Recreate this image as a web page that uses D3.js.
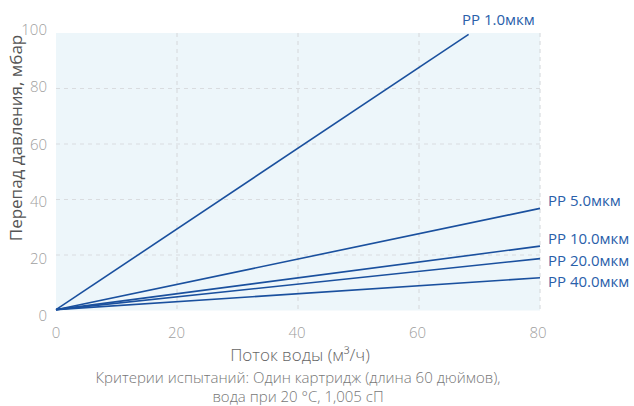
<!DOCTYPE html>
<html><head><meta charset="utf-8">
<script src="https://cdn.jsdelivr.net/npm/d3@7"></script>
<style>
body{margin:0;background:#fff;}
text{font-family:"Open Sans","Noto Sans",sans-serif;}
</style></head>
<body><svg id="c" width="634" height="406"></svg>
<script>
const seriesNames = ["PP 1.0мкм","PP 5.0мкм","PP 10.0мкм","PP 20.0мкм","PP 40.0мкм"];
const flowStart = [0,0,0,0,0];
const flowEnd = [68.2,80,80,80,80];
const dpStart = [0.3,0.3,0.3,0.3,0.3];
const dpEnd = [99.5,36.8,23.2,18.7,11.8];
const xTicks = [0,20,40,60,80];
const yTicks = [0,20,40,60,80,100];
const xTitle = "Поток воды (м³/ч)";
const yTitle = "Перепад давления, мбар";
const noteLines = ["Критерии испытаний: Один картридж (длина 60 дюймов),","вода при 20 °C, 1,005 сП"];

const svg = d3.select("#c");
const L=56,R=540,T=33,B=310.5;
const x = d3.scaleLinear().domain([0,80]).range([L,R]);
const y = d3.scaleLinear().domain([0,100]).range([B,T]);
const yLab = d3.scaleLinear().domain([0,100]).range([316,30]);
const xLab = d3.scaleLinear().domain([0,80]).range([56,538]);

svg.append("rect").attr("x",L).attr("y",T).attr("width",R-L).attr("height",B-T).attr("fill","#edf6fa");

svg.append("g").selectAll("line").data(xTicks.filter(d=>d>0)).join("line")
  .attr("x1",d=>x(d)).attr("x2",d=>x(d)).attr("y1",T).attr("y2",B)
  .attr("stroke","#d9dcdf").attr("stroke-width",1.2).attr("stroke-dasharray","4,4");
svg.append("g").selectAll("line").data(yTicks.filter(d=>d>0&&d<100)).join("line")
  .attr("x1",L).attr("x2",R).attr("y1",d=>y(d)).attr("y2",d=>y(d))
  .attr("stroke","#d9dcdf").attr("stroke-width",1.2).attr("stroke-dasharray","4,4");

svg.append("g").selectAll("text").data(yTicks).join("text")
  .attr("x",47).attr("y",d=>yLab(d)).attr("dy","0.35em").attr("text-anchor","end")
  .attr("fill","#a0a0a0").attr("font-size",15).attr("font-weight",300).text(d=>d);
svg.append("g").selectAll("text").data(xTicks).join("text")
  .attr("x",d=>xLab(d)).attr("y",333).attr("dy","0.35em").attr("text-anchor","middle")
  .attr("fill","#a0a0a0").attr("font-size",15).attr("font-weight",300).text(d=>d);

const line = d3.line().x(d=>x(d[0])).y(d=>y(d[1]));
const data = seriesNames.map((n,i)=>({name:n,pts:[[flowStart[i],dpStart[i]],[flowEnd[i],dpEnd[i]]]}));
svg.append("g").selectAll("path").data(data).join("path")
  .attr("d",d=>line(d.pts)).attr("fill","none").attr("stroke","#1a509e").attr("stroke-width",1.6);

const labPos = [[462,25],[548,206],[548,244],[548,265.5],[548,286.5]];
svg.append("g").selectAll("text").data(data).join("text")
  .attr("x",(d,i)=>labPos[i][0]).attr("y",(d,i)=>labPos[i][1])
  .attr("fill","#2a60aa").attr("font-size",15).text(d=>d.name);

svg.append("text").attr("transform","translate(22,138) rotate(-90)").attr("text-anchor","middle")
  .attr("fill","#555").attr("font-size",17).text(yTitle);
svg.append("text").attr("x",300).attr("y",361).attr("text-anchor","middle")
  .attr("fill","#666").attr("font-size",17).attr("font-weight",300).text(xTitle);
svg.append("g").selectAll("text").data(noteLines).join("text")
  .attr("x",298).attr("y",(d,i)=>383+i*19).attr("text-anchor","middle")
  .attr("fill","#777").attr("font-size",15).attr("font-weight",300).text(d=>d);
</script></body></html>
